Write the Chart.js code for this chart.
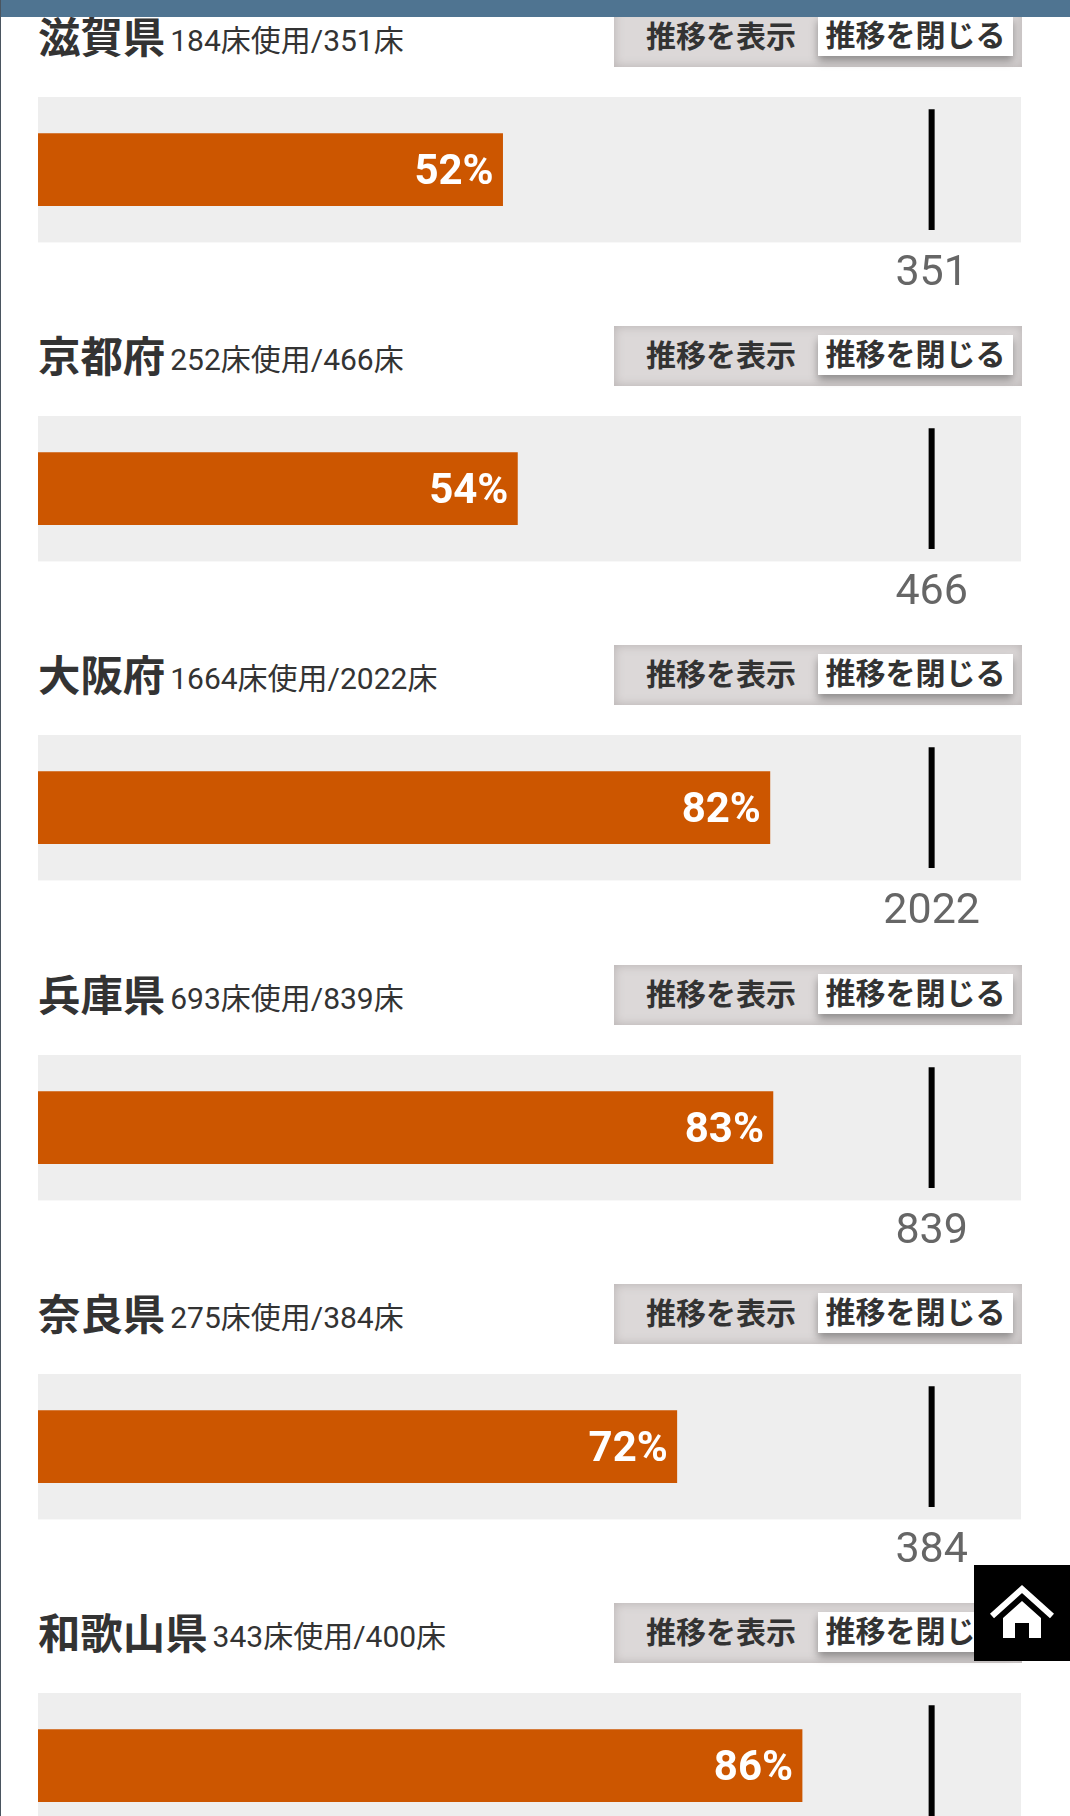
<!DOCTYPE html>
<html lang="ja"><head><meta charset="utf-8">
<script src="https://cdn.jsdelivr.net/npm/chart.js@4"></script>
<style>
html,body{margin:0;padding:0;background:#fff;width:1070px;height:1816px;overflow:hidden;font-family:Roboto,"Noto Sans CJK JP",sans-serif;color:#333}
#edge{position:absolute;left:0;top:0;width:1px;height:1816px;background:#4a5560;z-index:6}
#hdr{position:absolute;left:0;top:0;width:1070px;height:17px;background:#4f7491;z-index:5}
.sec{position:absolute;left:0;width:1070px;height:319px}
.h{position:absolute;left:38px;top:-92px;white-space:nowrap;line-height:60px;font-size:42.4px;font-weight:700;font-family:"Noto Sans CJK JP",sans-serif}
.h small{position:relative;top:-2px;font-size:30px;font-weight:400;font-family:Roboto,"Noto Sans CJK JP",sans-serif;margin-left:5px}
.btn{position:absolute;left:614px;top:-90px;width:408px;height:60px;background:#dcd8d8;box-shadow:inset 0 0 10px 1px #bcb7b7}
.btn span{position:absolute;font:700 30px/40px "Noto Sans CJK JP",sans-serif;white-space:nowrap}
.btn .a{left:32px;top:7px}
.btn .b{left:204px;top:9px;width:195px;height:40px;line-height:34px;background:#fff;box-shadow:0 5px 8px rgba(0,0,0,.35);text-align:center}
.sec canvas{position:absolute;left:0;top:0}
#home{position:absolute;left:974px;top:1565px;width:96px;height:96px;background:#000;z-index:7}
</style></head><body>
<div id="edge"></div><div id="hdr"></div><div id="root"></div>
<div id="home"><svg width="96" height="96" viewBox="0 0 96 96"><path d="M18 51 L48 24 L78 51" fill="none" stroke="#fff" stroke-width="6"/><path d="M29 53 L48 36 L67 53 V73 H55 V58 H41 V73 H29 Z" fill="#fff"/></svg></div>
<script>
const prefectures=["滋賀県","京都府","大阪府","兵庫県","奈良県","和歌山県"];
const usedBeds=[184,252,1664,693,275,343];
const totalBeds=[351,466,2022,839,384,400];
const barLengths=[182.5,250,1656,690,274.5,342];
const percentLabels=["52%","54%","82%","83%","72%","86%"];

const root=document.getElementById('root');
const areaBg={id:'areaBg',beforeDraw(c){const a=c.chartArea;c.ctx.fillStyle='#eeeeee';c.ctx.fillRect(a.left,a.top,a.width,a.height);}};
const pctLabel={id:'pctLabel',afterDatasetsDraw(c){
  const el=c.getDatasetMeta(0).data[0],ctx=c.ctx;
  ctx.save();ctx.font='700 42px Roboto';ctx.fillStyle='#fff';ctx.textAlign='right';ctx.textBaseline='middle';
  ctx.fillText(c.options.plugins.pctLabel.text,el.x-9,el.y+4);ctx.restore();}};

prefectures.forEach((name,i)=>{
  const s=document.createElement('div');s.className='sec';
  s.style.top=(97+319.2*i)+'px';
  s.innerHTML=`<div class="h">${name}<small>${usedBeds[i]}床使用/${totalBeds[i]}床</small></div>
  <div class="btn"><span class="a">推移を表示</span><span class="b">推移を閉じる</span></div>
  <div style="position:absolute;left:0;top:0;width:1070px;height:209px"><canvas id="c${i}"></canvas></div>`;
  root.appendChild(s);
  const cap=totalBeds[i];
  new Chart(document.getElementById('c'+i),{
    type:'bar',
    data:{labels:[name],datasets:[
      {data:[barLengths[i]],backgroundColor:'#cc5600',barThickness:72,grouped:false,order:2},
      {data:[[cap*0.997,cap*1.003]],backgroundColor:'#000',barThickness:120,grouped:false,order:1}
    ]},
    options:{indexAxis:'y',responsive:true,maintainAspectRatio:false,animation:false,
      layout:{padding:{left:38,right:49,top:0,bottom:0}},
      plugins:{legend:{display:false},tooltip:{enabled:false},pctLabel:{text:percentLabels[i]}},
      scales:{
        y:{display:false},
        x:{min:0,max:cap*1.1,border:{display:false},grid:{display:false,drawTicks:false},
          afterBuildTicks(a){a.ticks=[{value:cap}];},
          ticks:{autoSkip:false,maxRotation:0,padding:6,color:'#666',font:{family:'Roboto',size:43},callback:()=>String(cap)}}
      }},
    plugins:[areaBg,pctLabel]
  });
});
</script></body></html>
